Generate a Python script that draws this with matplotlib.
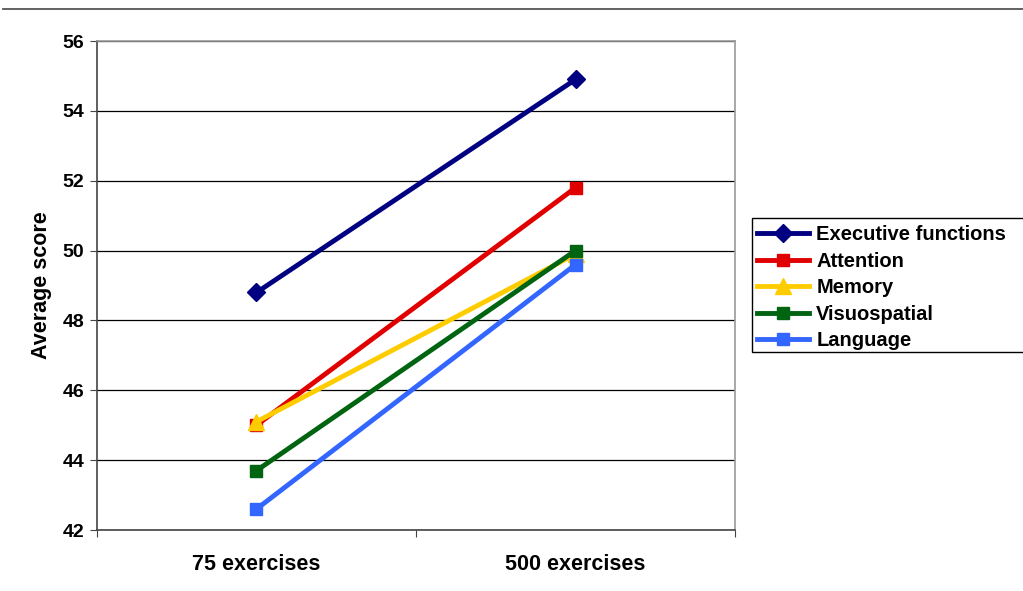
import matplotlib
matplotlib.use('Agg')
import matplotlib.pyplot as plt
from matplotlib.lines import Line2D
from matplotlib.patches import Rectangle

plt.rcParams['font.family'] = ['Liberation Sans', 'DejaVu Sans']
plt.rcParams['font.weight'] = 'bold'

categories = ['75 exercises', '500 exercises']
series_names = ['Executive functions', 'Attention', 'Memory', 'Visuospatial', 'Language']
executive = [48.8, 54.9]
attention = [45.0, 51.8]
memory = [45.1, 49.9]
visuospatial = [43.7, 50.0]
language = [42.6, 49.6]
y_ticks = [42, 44, 46, 48, 50, 52, 54, 56]

styles = [
    ('#000080', 'D', 9),
    ('#E00000', 's', 9),
    ('#FFCC00', '^', 11),
    ('#006411', 's', 9),
    ('#3366FF', 's', 9),
]

fig = plt.figure(figsize=(10.23, 5.91), dpi=100)
ax = fig.add_axes([0.0948, 0.1032, 0.6237, 0.8274])

x = [0, 1]
all_series = [executive, attention, memory, visuospatial, language]
for name, vals, (col, mk, ms) in zip(series_names, all_series, styles):
    ax.plot(x, vals, color=col, lw=3.5, marker=mk, markersize=ms,
            markeredgecolor=col, label=name, zorder=3)

ax.set_xlim(-0.5, 1.5)
ax.set_ylim(42, 56)
ax.set_yticks(y_ticks)
ax.set_yticklabels([str(t) for t in y_ticks], fontsize=14, fontweight='bold')
ax.set_xticks([-0.5, 0.5, 1.5])
ax.set_xticklabels([])
ax.set_xticks(x, minor=True)
ax.set_xticklabels(categories, minor=True, fontsize=15.5, fontweight='bold')
ax.tick_params(axis='x', which='minor', length=0, pad=17)
ax.tick_params(axis='x', which='major', length=5, direction='out', color='#444444')
ax.tick_params(axis='y', length=5, direction='out', color='#444444', pad=4)

ax.yaxis.grid(True, color='black', lw=0.9)
ax.set_axisbelow(True)
for s in ['top', 'right']:
    ax.spines[s].set_color('#999999')
    ax.spines[s].set_linewidth(1.2)
for s in ['left', 'bottom']:
    ax.spines[s].set_color('#444444')
    ax.spines[s].set_linewidth(1.2)

ax.set_ylabel('Average score', fontsize=15.5, fontweight='bold', labelpad=8)

# legend box runs off the right edge of the figure, as in the original
fig.add_artist(Rectangle((0.735, 0.404), 0.3, 0.227, transform=fig.transFigure,
                         facecolor='white', edgecolor='black', lw=1.0, zorder=4))
leg = fig.legend(loc='lower left', bbox_to_anchor=(0.735, 0.399), fontsize=14.5,
                 frameon=False, handlelength=2.6,
                 handletextpad=0.35, labelspacing=0.37, borderpad=0.25,
                 borderaxespad=0)
leg.set_zorder(5)
for t in leg.get_texts():
    t.set_fontweight('bold')

fig.add_artist(Line2D([0.003, 1.0], [0.984, 0.984], color='#555555', lw=1.3,
                      transform=fig.transFigure))

fig.savefig('out.png', dpi=100)
